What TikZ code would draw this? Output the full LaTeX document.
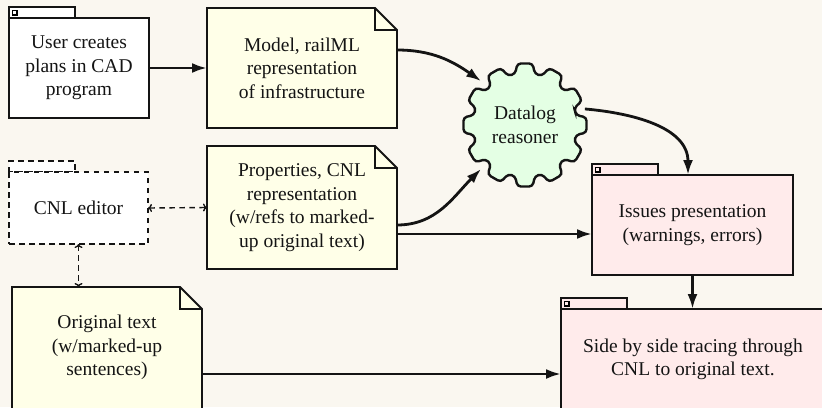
\documentclass[tikz,border=0pt]{standalone}
\usepackage{fontspec}
\setmainfont{Liberation Serif}
\usetikzlibrary{arrows.meta}
\definecolor{pagebg}{HTML}{FAF7F0}
\definecolor{notefill}{HTML}{FFFFE8}
\definecolor{issuefill}{HTML}{FFEBEB}
\definecolor{gearfill}{HTML}{E4FFE4}
\definecolor{ink}{HTML}{141414}
\pgfdeclarelayer{bg}
\pgfsetlayers{bg,main}

% dog-eared document outline around a node
\newcommand\docoutline[1]{%
  \begin{pgfonlayer}{bg}
    \filldraw[frame,fill=notefill] (#1.north west) -- ([xshift=-22pt]#1.north east)
      -- ([yshift=-22pt]#1.north east) -- (#1.south east) -- (#1.south west) -- cycle;
  \end{pgfonlayer}
  \draw[frame] ([xshift=-22pt]#1.north east) |- ([yshift=-22pt]#1.north east);
}
% folder tab on top of a box, with its small square mark
\newcommand\foldertab[2]{%
  \begin{pgfonlayer}{bg}
    \filldraw[frame,fill=#2] (#1.north west) rectangle ([xshift=66pt,yshift=11pt]#1.north west);
  \end{pgfonlayer}
  \draw[line width=1.2pt] ([xshift=3.5pt,yshift=7.5pt]#1.north west) rectangle ([xshift=8pt,yshift=3pt]#1.north west);
}

\tikzset{
  frame/.style={draw=ink, line width=1.8pt},
  every node/.style={outer sep=0pt, text=ink, align=center},
  docbox/.style={minimum width=190pt, inner sep=0pt},
  plainbox/.style={frame, fill=white, minimum width=140pt, minimum height=100pt},
  dashbox/.style={draw=ink, line width=1.4pt, dash pattern=on 5.5pt off 4.5pt},
  issuebox/.style={frame, fill=issuefill},
  flow/.style={draw=ink, line width=2.8pt, -{Latex[length=15pt,width=10pt]}},
  link/.style={draw=ink, line width=1.4pt, dash pattern=on 5.5pt off 4.5pt,
    {To[length=4pt,width=8pt]}-{To[length=4pt,width=8pt]}},
}

\begin{document}
\begin{tikzpicture}[x=1pt,y=-1pt,font=\fontsize{19.5}{23.5}\selectfont]
  \begin{pgfonlayer}{bg}
    \fill[pagebg] (0,0) rectangle (822,407);
  \end{pgfonlayer}
  \useasboundingbox (0,0) rectangle (822,407);

  % input side
  \node[plainbox] (user) at (79,68) {User creates\\plans in CAD\\program};
  \foldertab{user}{white}

  \node[docbox, minimum height=120pt] (model) at (302,68)
    {Model, railML\\representation\\of infrastructure};
  \docoutline{model}

  \node[docbox, minimum height=123pt] (props) at (302,207.5)
    {Properties, CNL\\representation\\(w/refs to marked-\\up original text)};
  \docoutline{props}

  \node[dashbox, fill=white, minimum width=139pt, minimum height=72pt] (cnl) at (78.5,208) {CNL editor};
  \begin{pgfonlayer}{bg}
    \filldraw[dashbox, fill=white] (cnl.north west) rectangle ([xshift=66pt,yshift=11pt]cnl.north west);
  \end{pgfonlayer}

  \node[docbox, minimum height=140pt, anchor=north] (orig) at (107,287)
    {Original text\\(w/marked-up\\sentences)\\\mbox{}};
  \docoutline{orig}

  % reasoner gear
  \filldraw[draw=ink, fill=gearfill, line width=2.4pt, rounded corners=3.5pt, shift={(525,125)}]
    (-15:52) \foreach \a in {0,30,...,330} {
      -- (\a-11:52) -- (\a-7:62) -- (\a+7:62) -- (\a+11:52) } -- cycle;
  \node[circle, minimum size=124pt] (dl) at (525,125) {Datalog\\reasoner};

  % output side
  \node[issuebox, minimum width=201pt, minimum height=100pt] (issues) at (692.5,225)
    {Issues presentation\\(warnings, errors)};
  \foldertab{issues}{issuefill}

  \node[issuebox, minimum width=264pt, minimum height=120pt, anchor=north] (side) at (693,309)
    {Side by side tracing through\\CNL to original text.\\\mbox{}};
  \foldertab{side}{issuefill}

  % connectors
  \draw[flow] (user.east) -- (model.west);
  \draw[flow] ([yshift=18pt]model.east) to[out=0,in=145] (dl.135);
  \draw[flow] ([yshift=-17.5pt]props.east) to[out=0,in=225] (dl.225);
  \draw[flow] ([yshift=-26.5pt]props.east) -- ([yshift=-26.5pt]props.east -| issues.west);
  \draw[flow] (dl.15) to[out=-5,in=90] ([xshift=-4.5pt]issues.north);
  \draw[flow] (issues.south) -- (issues.south |- side.north);
  \draw[flow] ([yshift=-17pt]orig.east) -- ([yshift=-17pt]orig.east -| side.west);
  \draw[link] (cnl.east) -- (props.west);
  \draw[link] (cnl.south) -- (cnl.south |- orig.north);
\end{tikzpicture}
\end{document}
